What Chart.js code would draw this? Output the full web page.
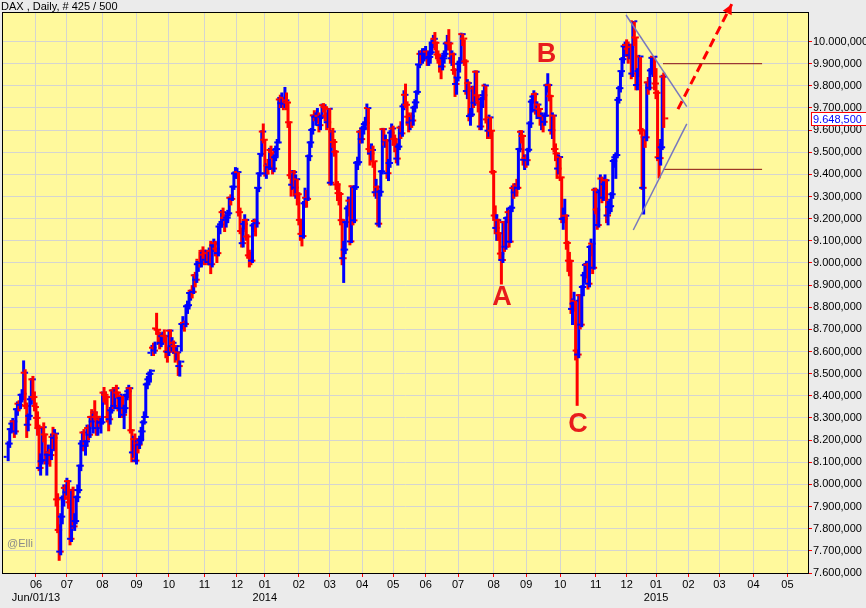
<!DOCTYPE html>
<html>
<head>
<meta charset="utf-8">
<title>DAX Daily</title>
<script src="https://cdn.jsdelivr.net/npm/chart.js@4.4.1/dist/chart.umd.min.js"></script>
<style>
  html, body { margin: 0; padding: 0; background: #ebebeb; }
  #wrap { width: 866px; height: 608px; }
</style>
</head>
<body>
<div id="wrap"><canvas id="chartDax" width="866" height="608"></canvas></div>
<script>
// --- 1. DATA (daily bars: [open, high, low, close], index points) ---

const bars2013 = [
  [8120,8195,8105,8180],[8180,8255,8165,8245],[8245,8290,8230,8270],[8270,8300,8240,8280],[8280,8290,8210,8235],
  [8235,8345,8225,8335],[8335,8375,8310,8360],[8360,8380,8330,8355],[8355,8410,8340,8400],[8400,8430,8370,8405],
  [8395,8560,8380,8500],[8500,8520,8340,8350],[8350,8370,8210,8265],[8265,8320,8240,8305],[8305,8400,8290,8380],
  [8380,8480,8360,8470],[8470,8490,8380,8390],[8390,8420,8330,8345],
  // Jun
  [8350,8370,8250,8296],[8296,8330,8220,8250],[8250,8270,8060,8070],[8070,8140,8040,8100],[8100,8260,8090,8254],
  [8254,8280,8190,8221],[8221,8230,8090,8105],[8105,8150,8040,8130],[8130,8180,8090,8140],[8140,8160,8080,8128],
  [8128,8230,8110,8210],[8210,8260,8160,8206],[8206,8250,8150,8225],[8225,8230,7900,7928],[7928,7960,7780,7790],
  [7790,7820,7655,7692],[7692,7870,7680,7850],[7850,7950,7820,7935],[7935,8000,7900,7980],[7980,8000,7930,7960],
  // Jul
  [7960,8030,7950,8010],[8010,8020,7890,7915],[7915,7930,7725,7750],[7750,7980,7740,7970],[7970,7990,7800,7806],
  [7806,7870,7790,7830],[7830,7950,7820,7938],[7938,8000,7920,7970],[7970,8090,7960,8080],[8080,8200,8060,8180],
  [8180,8240,8150,8230],[8230,8250,8150,8170],[8170,8200,8130,8190],[8190,8270,8170,8250],[8250,8270,8200,8220],
  [8220,8310,8210,8300],[8300,8340,8260,8280],[8280,8330,8230,8320],[8320,8380,8290,8300],[8300,8330,8220,8250],
  [8250,8300,8220,8290],[8290,8310,8260,8275],[8275,8300,8230,8276],
  // Aug
  [8276,8420,8270,8410],[8410,8440,8370,8400],[8400,8420,8360,8390],[8390,8400,8280,8300],[8300,8330,8240,8290],
  [8290,8350,8270,8330],[8330,8430,8320,8420],[8420,8440,8340,8350],[8350,8440,8340,8430],[8430,8450,8390,8410],
  [8410,8420,8330,8340],[8340,8400,8300,8390],[8385,8410,8350,8395],[8395,8400,8300,8310],[8310,8360,8250,8340],
  [8340,8410,8320,8400],[8400,8440,8380,8416],[8416,8450,8390,8430],[8430,8440,8230,8240],[8240,8250,8100,8140],
  [8140,8220,8120,8200],[8200,8230,8100,8103],
  // Sep
  [8103,8200,8090,8180],[8180,8210,8140,8175],[8175,8220,8160,8195],[8195,8260,8180,8235],[8235,8290,8200,8276],
  [8276,8330,8270,8300],[8300,8460,8300,8447],[8447,8490,8430,8470],[8470,8510,8450,8495],[8495,8520,8460,8509],
  [8590,8630,8580,8613],[8613,8640,8580,8600],[8600,8645,8590,8630],[8700,8775,8680,8694],[8694,8700,8640,8675],
  [8675,8690,8610,8635],[8635,8680,8620,8665],[8665,8690,8630,8667],[8667,8700,8640,8665],[8665,8670,8570,8596],
  [8596,8620,8550,8594],
  // Oct
  [8594,8700,8580,8690],[8690,8700,8600,8630],[8620,8665,8600,8635],[8635,8650,8590,8620],[8620,8630,8550,8590],
  [8590,8620,8560,8592],[8592,8600,8490,8530],[8530,8560,8487,8550],[8620,8730,8600,8720],[8720,8760,8700,8725],
  [8725,8740,8690,8720],[8720,8810,8710,8800],[8800,8830,8770,8805],[8805,8870,8790,8860],[8860,8880,8830,8870],
  [8870,8900,8840,8865],[8865,8950,8860,8940],[8940,8960,8890,8920],[8920,9010,8910,8990],[8990,9010,8960,9000],
  [9010,9050,8980,8995],[8995,9060,8980,9050],[9050,9075,9010,9033],
  // Nov
  [9033,9060,8990,9010],[9010,9060,9000,9040],[9040,9050,8990,9000],[9000,9070,8990,9050],[9050,9100,8950,8990],
  [8990,9090,8980,9080],[9075,9110,9050,9085],[9085,9100,9030,9060],[9060,9070,9000,9040],[9040,9170,9030,9160],
  [9160,9190,9130,9170],[9170,9240,9160,9225],[9225,9250,9190,9200],[9200,9220,9140,9190],[9190,9220,9160,9200],
  [9200,9240,9180,9220],[9220,9300,9210,9290],[9290,9310,9260,9285],[9285,9350,9280,9340],[9340,9410,9330,9400],
  [9400,9433,9380,9405],
  // Dec
  [9405,9430,9380,9406],[9406,9410,9210,9225],[9225,9250,9130,9140],[9140,9160,9070,9085],[9085,9190,9070,9172],
  [9172,9220,9150,9190],[9190,9200,9100,9115],[9115,9130,9020,9030],[9030,9060,8980,9020],[9020,9050,8990,9006],
  [9006,9180,9000,9165],[9165,9200,9140,9180],[9185,9200,9120,9175],[9175,9340,9160,9335],[9335,9410,9320,9400],
  [9400,9495,9390,9488],[9488,9600,9480,9589],[9589,9630,9540,9552]
];

const bars2014 = [
  // Jan
  [9552,9560,9390,9400],[9400,9450,9380,9435],[9435,9470,9400,9428],[9428,9520,9420,9506],[9506,9530,9470,9497],
  [9497,9500,9400,9422],[9422,9490,9410,9473],[9473,9530,9460,9510],[9510,9560,9480,9540],[9540,9750,9540,9734],
  [9734,9760,9700,9717],[9717,9770,9700,9742],[9742,9750,9690,9715],[9715,9795,9700,9730],[9730,9770,9690,9720],
  [9720,9730,9610,9631],[9631,9640,9380,9392],[9392,9400,9300,9349],[9349,9420,9330,9406],[9406,9420,9300,9336],
  [9336,9400,9290,9374],[9374,9380,9260,9306],
  // Feb
  [9306,9320,9170,9190],[9190,9200,9100,9127],[9127,9190,9075,9117],[9117,9280,9110,9265],[9265,9340,9250,9290],
  [9290,9330,9250,9285],[9285,9490,9280,9478],[9478,9550,9460,9540],[9540,9610,9520,9596],[9596,9670,9580,9662],
  [9662,9690,9640,9656],[9656,9680,9620,9659],[9659,9700,9630,9660],[9660,9680,9590,9618],[9618,9670,9600,9656],
  [9656,9720,9650,9708],[9708,9722,9680,9699],[9699,9710,9640,9661],[9661,9680,9600,9631],[9631,9700,9610,9692],
  // Mar
  [9692,9700,9350,9358],[9358,9600,9350,9589],[9589,9610,9520,9542],[9542,9560,9480,9498],[9498,9510,9330,9350],
  [9350,9370,9280,9311],[9311,9360,9260,9307],[9307,9320,9170,9189],[9189,9200,8990,9017],[9017,9100,8910,9056],
  [9056,9190,9040,9180],[9180,9260,9160,9242],[9242,9300,9210,9277],[9277,9290,9080,9093],[9093,9350,9090,9342],
  [9342,9350,9170,9188],[9188,9350,9180,9338],[9338,9460,9330,9448],[9448,9480,9420,9451],[9451,9600,9440,9588],
  [9588,9610,9540,9555],
  // Apr
  [9555,9620,9540,9604],[9604,9640,9580,9623],[9623,9660,9600,9628],[9628,9720,9620,9695],[9695,9700,9490,9510],
  [9510,9530,9440,9490],[9490,9540,9460,9506],[9506,9530,9430,9455],[9455,9460,9300,9315],[9315,9380,9290,9339],
  [9339,9350,9165,9173],[9173,9330,9160,9317],[9317,9420,9300,9409],[9409,9610,9400,9600],[9600,9610,9530,9545],
  [9545,9580,9520,9549],[9549,9560,9380,9401],[9401,9470,9370,9447],[9447,9600,9430,9584],[9584,9630,9560,9603],
  // May
  [9603,9620,9530,9556],[9556,9580,9500,9530],[9530,9560,9450,9467],[9467,9540,9440,9521],[9521,9620,9510,9607],
  [9607,9640,9560,9581],[9581,9720,9570,9703],[9703,9780,9690,9755],[9755,9810,9700,9710],[9710,9730,9620,9656],
  [9656,9680,9590,9630],[9630,9670,9600,9659],[9659,9680,9610,9639],[9639,9710,9620,9697],[9697,9740,9680,9721],
  [9721,9780,9700,9768],[9768,9900,9760,9892],[9892,9960,9880,9940],[9940,9960,9900,9939],[9939,9970,9900,9940],
  [9940,9970,9910,9943],
  // Jun
  [9943,9980,9920,9950],[9950,9960,9890,9920],[9920,9950,9890,9926],[9926,10000,9900,9947],[9947,10010,9940,9987],
  [9987,10030,9970,10008],[10008,10043,9960,9990],[9990,10000,9920,9937],[9937,9960,9900,9929],[9929,9940,9860,9912],
  [9912,9930,9830,9883],[9883,9940,9870,9920],[9920,9960,9900,9940],[9940,10000,9930,9987],[9987,10030,9960,9990],
  [9990,10056,9960,9987],[9987,9990,9900,9920],[9920,9960,9890,9938],[9938,9950,9850,9867],[9867,9880,9750,9804],
  [9804,9840,9760,9833],
  // Jul
  [9833,9910,9820,9902],[9895,9930,9860,9905],[9905,10040,9900,10029],[10029,10036,9980,10009],[10009,10010,9890,9906],
  [9906,9920,9760,9772],[9772,9830,9740,9808],[9808,9820,9640,9659],[9659,9700,9620,9666],[9666,9800,9660,9784],
  [9784,9800,9700,9719],[9719,9870,9710,9859],[9859,9870,9730,9753],[9753,9760,9680,9720],[9720,9730,9600,9612],
  [9612,9750,9600,9735],[9735,9780,9700,9753],[9753,9810,9740,9797],[9797,9800,9630,9644],[9644,9650,9560,9593],
  [9593,9670,9570,9653],[9653,9660,9560,9593],[9593,9600,9400,9407],
  // Aug
  [9407,9420,9190,9210],[9210,9260,9130,9154],[9154,9220,9100,9189],[9189,9200,9100,9130],[9130,9140,9010,9038],
  [9038,9050,8903,9009],[9009,9190,9000,9180],[9180,9190,9050,9069],[9069,9210,9060,9198],[9198,9250,9180,9225],
  [9225,9240,9070,9092],[9092,9260,9090,9245],[9245,9350,9230,9334],[9334,9360,9290,9314],[9314,9360,9300,9339],
  [9345,9380,9300,9335],[9335,9520,9330,9510],[9510,9600,9500,9588],[9588,9600,9540,9569],[9569,9580,9440,9462],
  [9462,9490,9420,9470],
  // Sep
  [9470,9490,9430,9460],[9460,9520,9440,9507],[9507,9640,9500,9626],[9626,9740,9610,9724],[9724,9760,9680,9747],
  [9747,9780,9720,9758],[9758,9770,9670,9686],[9686,9730,9650,9711],[9711,9720,9660,9691],[9691,9700,9620,9651],
  [9651,9680,9600,9659],[9659,9670,9590,9633],[9633,9680,9620,9661],[9661,9810,9660,9798],[9798,9857,9770,9799],
  [9799,9810,9730,9749],[9749,9760,9580,9595],[9595,9680,9560,9661],[9661,9670,9500,9510],[9510,9540,9460,9490],
  [9490,9500,9380,9422],[9422,9490,9400,9474],
  // Oct
  [9474,9480,9370,9382],[9382,9390,9180,9195],[9195,9250,9150,9196],[9196,9290,9180,9209],[9209,9220,9060,9086],
  [9086,9100,8960,9006],[9006,9050,8940,9005],[9005,9010,8770,8788],[8788,8840,8720,8812],[8812,8870,8780,8825],
  [8825,8830,8560,8572],[8600,8610,8355,8582],[8582,8860,8570,8850],[8850,8860,8700,8717],[8717,8900,8710,8887],
  [8887,8960,8850,8940],[8940,9000,8910,8987],[8987,9010,8930,8988],[8988,9000,8880,8902],[8902,9080,8890,9068],
  [9068,9110,9030,9083],[9083,9090,8950,8974],[8974,9340,8970,9326],
  // Nov
  [9326,9340,9220,9237],[9237,9250,9150,9167],[9167,9330,9160,9315],[9315,9400,9290,9377],[9377,9390,9270,9291],
  [9291,9370,9280,9351],[9351,9400,9330,9369],[9369,9380,9180,9210],[9210,9280,9170,9249],[9249,9290,9220,9252],
  [9252,9320,9230,9306],[9306,9470,9290,9456],[9456,9490,9430,9473],[9473,9500,9380,9483],[9483,9750,9480,9732],
  [9732,9800,9720,9785],[9785,9870,9770,9862],[9862,9930,9840,9916],[9916,9990,9900,9974],[9974,10000,9940,9980],
  // Dec
  [9980,10010,9930,9963],[9963,10000,9900,9934],[9934,9990,9920,9971],[9971,9990,9830,9851],[9851,10093,9840,10087],
  [10087,10090,9980,10014],[10014,10020,9780,9799],[9799,9880,9780,9862],[9862,9940,9840,9928],[9928,9930,9580,9595],
  [9595,9610,9330,9335],[9335,9570,9219,9564],[9564,9600,9520,9563],[9563,9820,9550,9811],[9811,9840,9760,9787],
  [9787,9880,9780,9865],[9865,9930,9850,9922],[9922,9935,9840,9927],[9927,9930,9780,9806]
];

const bars2015 = [
  [9806,9880,9740,9764],[9764,9780,9460,9473],[9473,9540,9382,9469],[9469,9560,9440,9518],[9518,9850,9510,9837],
  [9837,9860,9610,9648.5]
];

// month ticks (bar index of first trading day) and their labels
const monthTickIdx = [18, 38, 61, 83, 104, 127, 148, 166, 188, 208, 229, 249, 270, 291, 314, 335, 357, 380, 400, 419, 440, 460, 482, 504];
const monthTickLabels = [['06', 'Jun/01/13'], '07', '08', '09', '10', '11', '12', ['01', '2014'], '02', '03', '04', '05',
  '06', '07', '08', '09', '10', '11', '12', ['01', '2015'], '02', '03', '04', '05'];

// wave labels
const waveNames = ['A', 'B', 'C'];
const waveIdx = [319.4, 348.2, 368.6];
const wavePrice = [8842, 9941, 8271];

// drawn lines (bar index / price pairs)
const upperTrendIdx = [399.6, 438.9];
const upperTrendPrice = [10120, 9706];
const lowerTrendIdx = [404.3, 438.9];
const lowerTrendPrice = [9149, 9628];
const levelIdx = [423.5, 487.6];
const levelPrices = [9900, 9423];
const targetIdx = [433.2, 468.0];
const targetPrice = [9695, 10169];

const colors = {
  up: '#0000ff',
  down: '#ff0000',
  plot: '#fff99c',
  page: '#ebebeb',
  grid: '#d5d5d0',
  trend: '#7878be',
  level: '#8a1010',
  wave: '#e81c1c'
};

// --- 2. HELPERS ---

function fmtDE(v) {
  const parts = v.toFixed(3).split('.');
  return parts[0].replace(/\B(?=(\d{3})+(?!\d))/g, '.') + ',' + parts[1];
}

const bars = bars2013.concat(bars2014, bars2015);
const barColor = bars.map(b => (b[3] >= b[0] ? colors.up : colors.down));

function ohlcSet(stack, pick) {
  return {
    type: 'bar',
    stack: stack,
    order: 2,
    data: bars.map((b, i) => ({ x: i, y: pick(b) })),
    backgroundColor: barColor,
    borderWidth: 0,
    inflateAmount: 0,
    barThickness: 3,
    minBarLength: 2
  };
}

function lineSet(idx, price, color, width, dash) {
  return {
    type: 'line',
    order: 1,
    data: idx.map((x, k) => ({ x: x, y: price[k] })),
    borderColor: color,
    borderWidth: width,
    borderDash: dash || [],
    pointRadius: 0,
    fill: false,
    tension: 0,
    clip: false
  };
}

// --- 3. PLUGIN (frame, texts, arrow head, last price box) ---

const decorPlugin = {
  id: 'decor',
  beforeDraw(chart) {
    const { ctx, chartArea: a } = chart;
    ctx.save();
    ctx.fillStyle = colors.page;
    ctx.fillRect(0, 0, chart.width, chart.height);
    ctx.fillStyle = colors.plot;
    ctx.fillRect(a.left, a.top, a.right - a.left, a.bottom - a.top);
    ctx.restore();
  },
  afterDraw(chart) {
    const { ctx, chartArea: a } = chart;
    const xs = chart.scales.x;
    const ys = chart.scales.y;
    ctx.save();

    // frame
    ctx.strokeStyle = '#000';
    ctx.lineWidth = 1;
    ctx.strokeRect(a.left - 0.5, a.top - 0.5, a.right - a.left + 1, a.bottom - a.top + 1);

    // title + watermark
    ctx.font = '11px "Liberation Sans", Arial, sans-serif';
    ctx.fillStyle = '#000';
    ctx.textAlign = 'left';
    ctx.textBaseline = 'alphabetic';
    ctx.fillText('DAX , Daily, # 425 / 500', 1, 10);
    ctx.fillStyle = '#8a8a8a';
    ctx.textBaseline = 'middle';
    ctx.fillText('@Elli', a.left + 4, a.bottom - 29);

    // wave letters
    ctx.font = 'bold 27px "Liberation Sans", Arial, sans-serif';
    ctx.fillStyle = colors.wave;
    ctx.textAlign = 'center';
    waveNames.forEach((n, k) => {
      ctx.fillText(n, xs.getPixelForValue(waveIdx[k]), ys.getPixelForValue(wavePrice[k]));
    });

    // arrow head on the dashed target line
    const x1 = xs.getPixelForValue(targetIdx[0]), y1 = ys.getPixelForValue(targetPrice[0]);
    const x2 = xs.getPixelForValue(targetIdx[1]), y2 = ys.getPixelForValue(targetPrice[1]);
    const ang = Math.atan2(y2 - y1, x2 - x1);
    ctx.fillStyle = colors.down;
    ctx.beginPath();
    ctx.moveTo(x2, y2);
    ctx.lineTo(x2 - 10 * Math.cos(ang) + 5 * Math.sin(ang), y2 - 10 * Math.sin(ang) - 5 * Math.cos(ang));
    ctx.lineTo(x2 - 10 * Math.cos(ang) - 5 * Math.sin(ang), y2 - 10 * Math.sin(ang) + 5 * Math.cos(ang));
    ctx.closePath();
    ctx.fill();

    // last price box
    const last = bars[bars.length - 1][3];
    const py = Math.round(ys.getPixelForValue(last));
    ctx.fillStyle = '#fff';
    ctx.fillRect(a.right + 3, py - 6, 60, 13);
    ctx.strokeStyle = '#ff0000';
    ctx.strokeRect(a.right + 3.5, py - 6.5, 60, 13);
    ctx.font = '11px "Liberation Sans", Arial, sans-serif';
    ctx.fillStyle = '#0000ff';
    ctx.textAlign = 'left';
    ctx.textBaseline = 'middle';
    ctx.fillText(fmtDE(last), a.right + 5, py + 0.5);

    ctx.restore();
  }
};

// --- 4. CHART ---

const tickFont = { family: '"Liberation Sans", Arial, sans-serif', size: 11 };

new Chart(document.getElementById('chartDax').getContext('2d'), {
  type: 'bar',
  data: {
    datasets: [
      ohlcSet('open', b => [b[0], b[0]]),
      ohlcSet('range', b => [b[2], b[1]]),
      ohlcSet('close', b => [b[3], b[3]]),
      lineSet(upperTrendIdx, upperTrendPrice, colors.trend, 1.5),
      lineSet(lowerTrendIdx, lowerTrendPrice, colors.trend, 1.5),
      lineSet(levelIdx, [levelPrices[0], levelPrices[0]], colors.level, 1),
      lineSet(levelIdx, [levelPrices[1], levelPrices[1]], colors.level, 1),
      lineSet(targetIdx, targetPrice, colors.down, 3, [9, 5])
    ]
  },
  options: {
    responsive: false,
    animation: false,
    devicePixelRatio: 1,
    layout: { padding: { left: 3, top: 13, right: 0, bottom: 0 } },
    plugins: { legend: { display: false }, tooltip: { enabled: false } },
    scales: {
      x: {
        type: 'linear',
        min: -3.34,
        max: 517.3,
        offset: false,
        stacked: false,
        border: { display: false },
        grid: { color: colors.grid, tickColor: '#ff0000', tickLength: 4, offset: false },
        ticks: {
          autoSkip: false,
          maxRotation: 0,
          padding: 1,
          color: '#000',
          font: tickFont,
          callback: (v, i) => monthTickLabels[i]
        },
        afterBuildTicks: s => { s.ticks = monthTickIdx.map(v => ({ value: v })); },
        afterFit: s => { s.height = 35; }
      },
      y: {
        position: 'right',
        min: 7600,
        max: 10129,
        stacked: false,
        border: { display: false },
        grid: { color: colors.grid, tickColor: '#ff0000', tickLength: 4 },
        ticks: {
          stepSize: 100,
          padding: 1,
          color: '#000',
          font: tickFont,
          callback: v => fmtDE(v)
        },
        afterBuildTicks: s => { s.ticks = s.ticks.filter(t => t.value <= 10000 && t.value % 100 === 0); },
        afterFit: s => { s.width = 58; }
      }
    }
  },
  plugins: [decorPlugin]
});
</script>
</body>
</html>
